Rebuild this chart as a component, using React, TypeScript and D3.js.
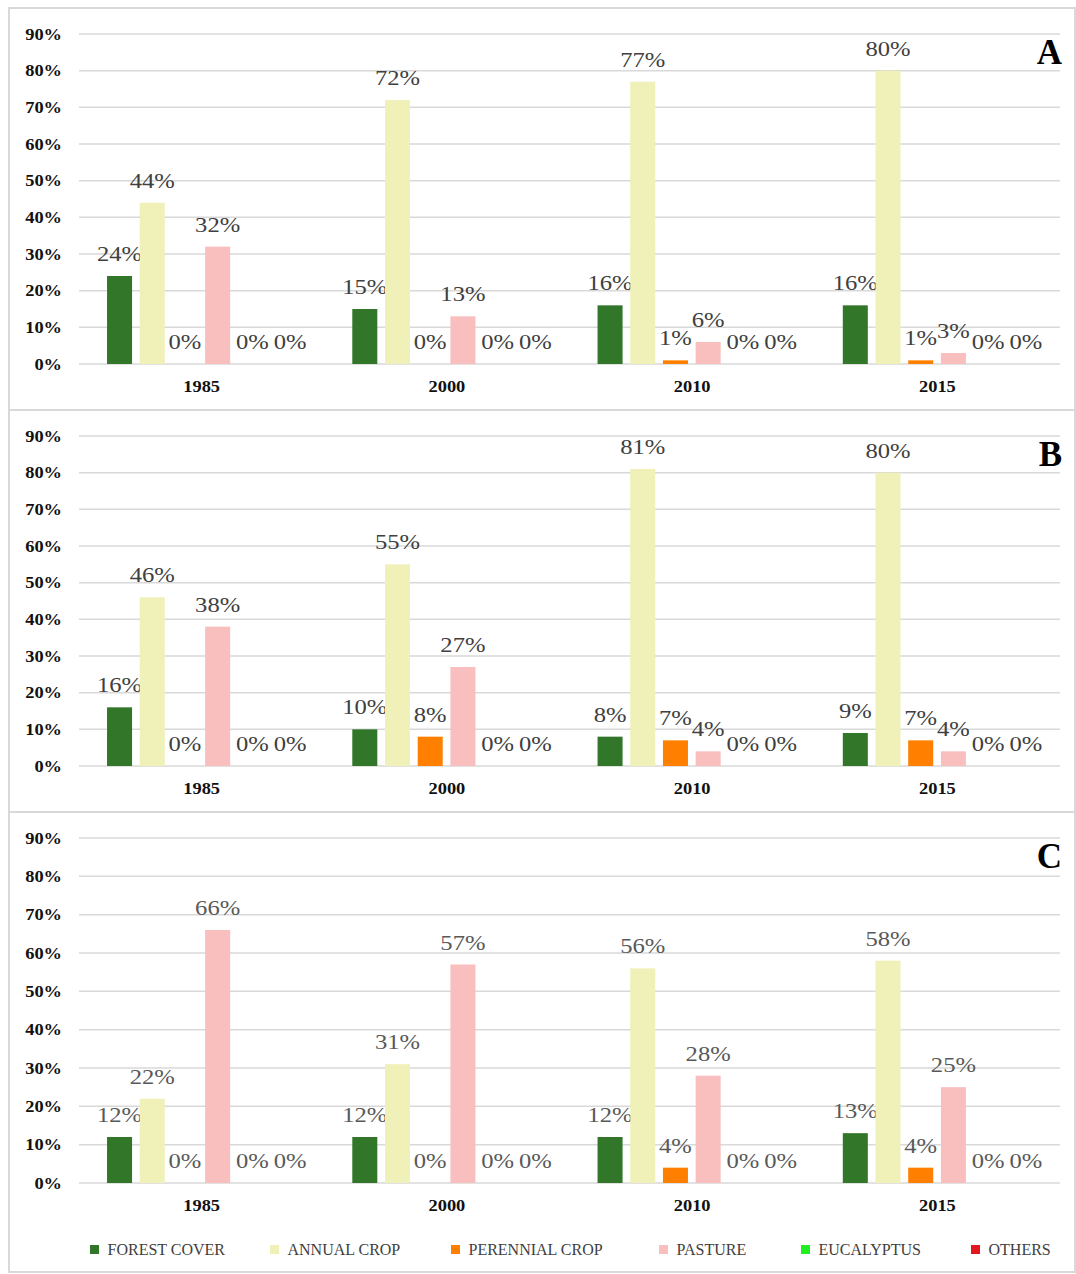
import React from "react";
import * as d3 from "d3";

const years = ["1985", "2000", "2010", "2015"];
const series = ["FOREST COVER", "ANNUAL CROP", "PERENNIAL CROP", "PASTURE", "EUCALYPTUS", "OTHERS"];
const colors = ["#317629", "#F0F0B9", "#FF8000", "#F9BEBE", "#1FEF1F", "#E3171E"];
const yTicks = [0, 0.1, 0.2, 0.3, 0.4, 0.5, 0.6, 0.7, 0.8, 0.9];

// values per year: [forest, annual, perennial, pasture, eucalyptus, others] in %
const panelA = [
  [24, 44, 0, 32, 0, 0],
  [15, 72, 0, 13, 0, 0],
  [16, 77, 1, 6, 0, 0],
  [16, 80, 1, 3, 0, 0],
];
const panelB = [
  [16, 46, 0, 38, 0, 0],
  [10, 55, 8, 27, 0, 0],
  [8, 81, 7, 4, 0, 0],
  [9, 80, 7, 4, 0, 0],
];
const panelC = [
  [12, 22, 0, 66, 0, 0],
  [12, 31, 0, 57, 0, 0],
  [12, 56, 4, 28, 0, 0],
  [13, 58, 4, 25, 0, 0],
];
const panelLetters = ["A", "B", "C"];

const SERIF = "'Liberation Serif', 'Times New Roman', serif";
const X0 = 79;
const X1 = 1060;

const panels = [
  { data: panelA, letter: panelLetters[0], top: 34, bottom: 364, labelColor: "#404040" },
  { data: panelB, letter: panelLetters[1], top: 436, bottom: 766, labelColor: "#404040" },
  { data: panelC, letter: panelLetters[2], top: 838, bottom: 1183, labelColor: "#595959" },
];

const xGroup = d3.scaleBand<string>().domain(years).range([X0, X1]).padding(0);
const gw = xGroup.bandwidth();
const pIn = 0.235;
const xSeries = d3
  .scaleBand<string>()
  .domain(series)
  .range([gw * 0.0987, gw * 0.0987 + gw * 0.8])
  .paddingInner(pIn)
  .paddingOuter(pIn / 2);

function Panel({ p }: { p: (typeof panels)[number] }) {
  const y = d3.scaleLinear().domain([0, 0.9]).range([p.bottom, p.top]);
  const bw = xSeries.bandwidth();
  return (
    <g>
      {yTicks.map((t) => (
        <g key={t}>
          <line x1={X0} x2={X1} y1={y(t)} y2={y(t)} stroke="#d9d9d9" strokeWidth={1.5} />
          <text
            transform={`translate(62,${y(t) + 5.5}) scale(1.15,1)`}
            textAnchor="end"
            fontFamily={SERIF}
            fontWeight="bold"
            fontSize={16}
            fill="#111"
          >
            {d3.format(".0%")(t)}
          </text>
        </g>
      ))}
      {years.map((yr, gi) => {
        const gx = xGroup(yr)!;
        return (
          <g key={yr}>
            {series.map((s, si) => {
              const v = p.data[gi][si];
              const bx = gx + xSeries(s)!;
              const yt = y(v / 100);
              const cx = bx + bw / 2 + (si === 5 ? 7 : si === 4 ? 2 : 0);
              return (
                <g key={s}>
                  {v > 0 && (
                    <rect x={bx} y={yt} width={bw} height={p.bottom - yt} fill={colors[si]} />
                  )}
                  <text
                    transform={`translate(${cx},${yt - 15}) scale(1.12,1)`}
                    textAnchor="middle"
                    fontFamily={SERIF}
                    fontSize={22}
                    fill={p.labelColor}
                  >
                    {`${v}%`}
                  </text>
                </g>
              );
            })}
            <text
              transform={`translate(${gx + gw / 2},${p.bottom + 27.5}) scale(1.15,1)`}
              textAnchor="middle"
              fontFamily={SERIF}
              fontWeight="bold"
              fontSize={16}
              fill="#111"
            >
              {yr}
            </text>
          </g>
        );
      })}
      <text
        x={1062}
        y={p.top + 30}
        textAnchor="end"
        fontFamily={SERIF}
        fontWeight="bold"
        fontSize={35}
        fill="#000"
      >
        {p.letter}
      </text>
    </g>
  );
}

const legendX = [90, 270, 451, 659, 801, 971];

export default function App() {
  return (
    <svg
      width={1076}
      height={1274}
      style={{ position: "absolute", left: 0, top: 0, background: "#fff" }}
    >
      <rect x={0} y={0} width={1076} height={1274} fill="#fff" />
      <rect x={9} y={8} width={1066} height={1264} fill="none" stroke="#d9d9d9" strokeWidth={2} />
      <line x1={9} x2={1076} y1={410} y2={410} stroke="#d9d9d9" strokeWidth={2} />
      <line x1={9} x2={1076} y1={812} y2={812} stroke="#d9d9d9" strokeWidth={2} />
      {panels.map((p) => (
        <Panel key={p.letter} p={p} />
      ))}
      {series.map((s, i) => (
        <g key={s}>
          <rect x={legendX[i]} y={1245} width={9} height={9} fill={colors[i]} />
          <text
            x={legendX[i] + 17.5}
            y={1255}
            fontFamily={SERIF}
            fontSize={16}
            fill="#404040"
          >
            {s}
          </text>
        </g>
      ))}
    </svg>
  );
}
